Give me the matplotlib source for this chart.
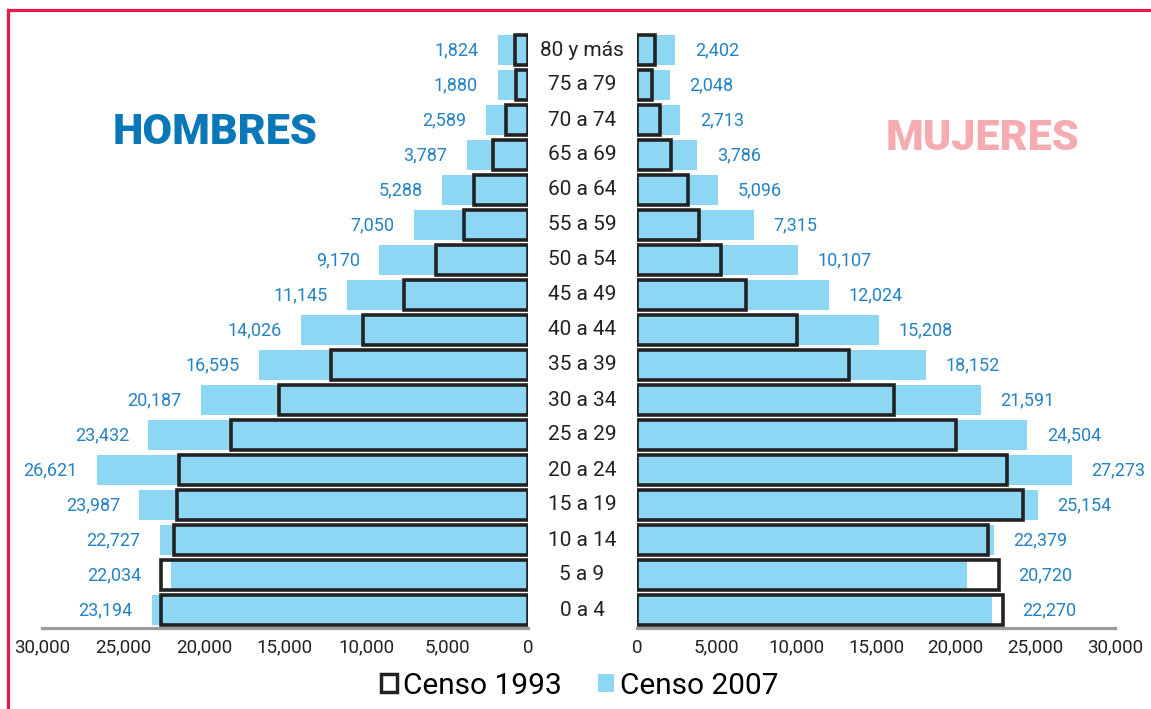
import matplotlib

matplotlib.use("Agg")
import matplotlib.pyplot as plt  # noqa: E402
from matplotlib.lines import Line2D  # noqa: E402
from matplotlib.patches import Patch  # noqa: E402

plt.rcParams["font.family"] = ["Roboto", "DejaVu Sans"]

# age groups, bottom to top
ages = ["0 a 4", "5 a 9", "10 a 14", "15 a 19", "20 a 24", "25 a 29", "30 a 34",
        "35 a 39", "40 a 44", "45 a 49", "50 a 54", "55 a 59", "60 a 64",
        "65 a 69", "70 a 74", "75 a 79", "80 y más"]
men_2007 = [23194, 22034, 22727, 23987, 26621, 23432, 20187, 16595, 14026,
            11145, 9170, 7050, 5288, 3787, 2589, 1880, 1824]
women_2007 = [22270, 20720, 22379, 25154, 27273, 24504, 21591, 18152, 15208,
              12024, 10107, 7315, 5096, 3786, 2713, 2048, 2402]
# 1993 values (estimates)
men_1993 = [22650, 22650, 21850, 21650, 21550, 18350, 15350, 12150, 10200,
            7650, 5700, 3950, 3350, 2150, 1350, 750, 800]
women_1993 = [22950, 22700, 22000, 24200, 23250, 20050, 16100, 13300, 10050,
              6850, 5250, 3900, 3200, 2150, 1450, 950, 1130]
ticks = [0, 5000, 10000, 15000, 20000, 25000, 30000]

BLUE = "#8dd7f5"
EDGE = "#222222"
LBL = "#2383c4"
W, H = 1151, 709

fig = plt.figure(figsize=(W / 100, H / 100), dpi=100)
bottom, height = 81.5 / H, 595 / H
ax_m = fig.add_axes([42 / W, bottom, (528 - 42) / W, height])
ax_f = fig.add_axes([637 / W, bottom, (1115 - 637) / W, height])

ys = list(range(len(ages)))
for ax, v07, v93, side in ((ax_m, men_2007, men_1993, -1), (ax_f, women_2007, women_1993, 1)):
    ax.barh(ys, v07, height=0.88, color=BLUE, zorder=2)
    ax.barh(ys, v93, height=0.86, facecolor="none", edgecolor=EDGE, linewidth=2.6, zorder=3)
    for y, a, b in zip(ys, v07, v93):
        ax.annotate(f"{a:,}", xy=(max(a, b), y), xytext=(14 * side, 0),
                    textcoords="offset points", ha="left" if side > 0 else "right",
                    va="center", color=LBL, fontsize=13)
    ax.set_xlim(0, 30000)
    ax.set_ylim(-0.5, len(ages) - 0.5)
    ax.set_xticks(ticks)
    ax.set_xticklabels([f"{t:,}" for t in ticks], fontsize=13.5, color=EDGE)
    ax.set_yticks([])
    ax.tick_params(axis="x", length=0, pad=8)
    for s in ("top", "left", "right"):
        ax.spines[s].set_visible(False)
    ax.spines["bottom"].set_color("#9b9b9b")
    ax.spines["bottom"].set_linewidth(2.3)
    ax.spines["bottom"].set_zorder(1)

ax_m.invert_xaxis()

# age labels between the two halves
for y, lab in zip(ys, ages):
    cy = bottom + height * (y + 0.5) / len(ages)
    fig.text(582 / W, cy, lab, ha="center", va="center", fontsize=15, color=EDGE)

fig.text(215 / W, 1 - 132 / H, "HOMBRES", ha="center", va="center",
         fontsize=31, fontweight="black", color="#0a78b8")
fig.text(982 / W, 1 - 139 / H, "MUJERES", ha="center", va="center",
         fontsize=31, fontweight="black", color="#f6abb0")

handles = [Patch(facecolor="white", edgecolor=EDGE, linewidth=2.5, label="Censo 1993"),
           Patch(facecolor=BLUE, edgecolor="none", label="Censo 2007")]
fig.legend(handles=handles, loc="center", bbox_to_anchor=(580 / W, 1 - 686 / H), ncol=2,
           frameon=False, fontsize=21.5, handlelength=0.55, handleheight=0.55,
           handletextpad=0.2, columnspacing=1.2)

# red frame (top and left)
red = "#e8184d"
fig.add_artist(Line2D([8 / W, 1], [1 - 10 / H, 1 - 10 / H], color=red, linewidth=2.3))
fig.add_artist(Line2D([8 / W, 8 / W], [0, 1 - 10 / H], color=red, linewidth=2.3))

fig.savefig("out.png", dpi=100)
